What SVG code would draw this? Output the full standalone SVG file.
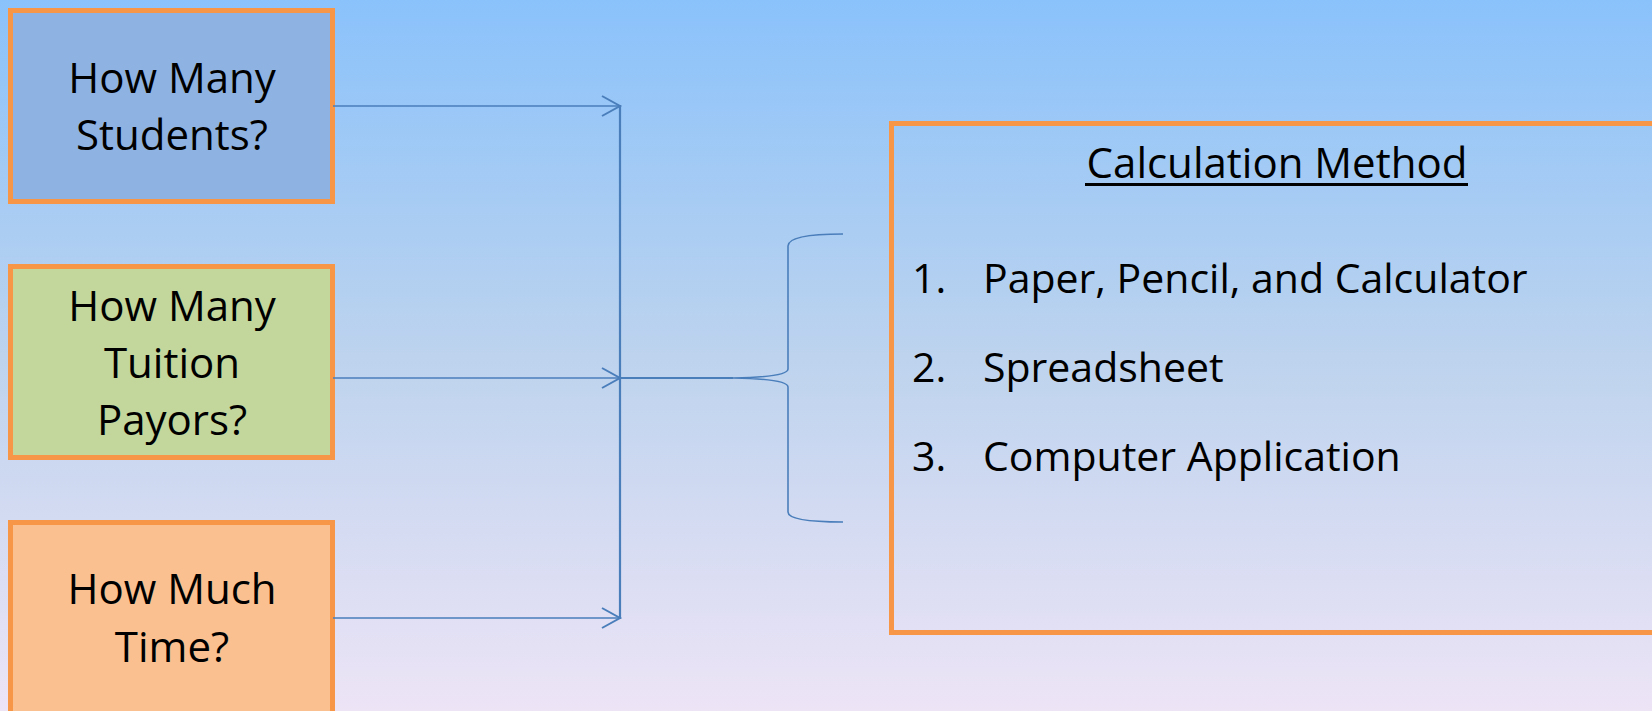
<svg xmlns="http://www.w3.org/2000/svg" width="1652" height="711" viewBox="0 0 1652 711">
<defs>
<linearGradient id="bg" x1="0" y1="0" x2="0" y2="1">
<stop offset="0" stop-color="#8AC2FB"/>
<stop offset="0.5" stop-color="#BDD3EE"/>
<stop offset="1" stop-color="#EDE4F6"/>
</linearGradient>
<marker id="arr" markerUnits="userSpaceOnUse" markerWidth="24" markerHeight="24" viewBox="-20 -12 24 24" refX="0" refY="0" orient="auto">
<path d="M-18,-10 L0,0 L-18,10" fill="none" stroke="#4A7EBB" stroke-width="2"/>
</marker>
</defs>
<style>
.box{stroke:#F79646;stroke-width:5;}
.t{font-family:"Open Sans","Liberation Sans",sans-serif;font-size:42px;fill:#000;}
.s{font-size:41px;}
.c{text-anchor:middle;}
.ln{fill:none;stroke:#4A7EBB;stroke-width:1.6;}
.ln2{fill:none;stroke:#4A7EBB;stroke-width:2.2;}
</style>
<rect x="0" y="0" width="1652" height="711" fill="url(#bg)"/>
<g id="node-students">
<rect class="box" x="10.5" y="10.5" width="322" height="191" fill="#8EB3E3"/>
<text class="t c" x="172" y="93">How Many</text>
<text class="t c" x="172" y="150">Students?</text>
</g>
<g id="node-payors">
<rect class="box" x="10.5" y="266.5" width="322" height="191" fill="#C3D69B"/>
<text class="t c" x="172" y="321">How Many</text>
<text class="t c" x="172" y="378">Tuition</text>
<text class="t c" x="172" y="435">Payors?</text>
</g>
<g id="node-time">
<rect class="box" x="10.5" y="522.5" width="322" height="220" fill="#FAC090"/>
<text class="t c" x="172" y="604">How Much</text>
<text class="t c" x="172" y="662">Time?</text>
</g>
<g id="node-method">
<rect class="box" x="891.5" y="123.5" width="780" height="509" fill="none"/>
<text class="t c" x="1277" y="178">Calculation Method</text>
<rect x="1085" y="183" width="383" height="3" fill="#000"/>
<text class="t s" x="912" y="293">1.</text>
<text class="t s" x="983" y="293">Paper, Pencil, and Calculator</text>
<text class="t s" x="912" y="382">2.</text>
<text class="t s" x="983" y="382">Spreadsheet</text>
<text class="t s" x="912" y="471">3.</text>
<text class="t s" x="983" y="471">Computer Application</text>
</g>
<g id="connectors">
<line class="ln" x1="333" y1="106" x2="620" y2="106" marker-end="url(#arr)"/>
<line class="ln" x1="333" y1="378" x2="620" y2="378" marker-end="url(#arr)"/>
<line class="ln" x1="333" y1="618" x2="620" y2="618" marker-end="url(#arr)"/>
<line class="ln2" x1="620" y1="105" x2="620" y2="619"/>
<line class="ln2" x1="620" y1="378" x2="733" y2="378"/>
<path class="ln" d="M843,234 Q788,234 788,246 L788,369 Q788,377 733,378 Q788,379 788,387 L788,512 Q788,522 843,522"/>
</g>
</svg>
